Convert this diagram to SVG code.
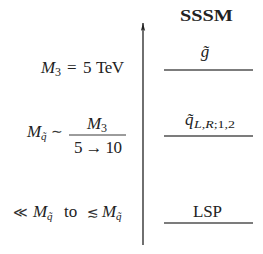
<svg xmlns="http://www.w3.org/2000/svg" width="263" height="254" viewBox="0 0 263 254">
<style>
text{font-family:"Liberation Serif","DejaVu Serif",serif;font-size:17px;fill:#222}
.i{font-style:italic}
.s{font-size:12px}
.ss{font-size:11px}
.sym{font-family:"DejaVu Sans","Liberation Serif",serif;font-size:14px;fill:#333}
.ln{stroke:#505050;stroke-width:1.6}
</style>
<defs>
<marker id="ah" markerWidth="8" markerHeight="5" refX="10" refY="3" orient="auto" markerUnits="userSpaceOnUse" viewBox="0 0 10 6">
<path d="M10 3 L0 0.3 L2.2 3 L0 5.7 Z" fill="#222"/>
</marker>
</defs>
<g id="axis">
<line x1="143" y1="245" x2="143" y2="23" stroke="#222" stroke-width="1.3" marker-end="url(#ah)"/>
</g>
<g id="title"><text x="180" y="21" textLength="53" lengthAdjust="spacingAndGlyphs" style="font-weight:bold">SSSM</text></g>
<g id="gluino">
<line class="ln" x1="164" y1="70" x2="253" y2="70"/>
<text class="i" x="205" y="57" text-anchor="middle">g̃</text>
<text x="41" y="72.5" class="i">M</text>
<text x="55" y="75.5" class="s">3</text>
<text x="67" y="72.5">=</text>
<text x="83" y="72.5">5</text>
<text x="96" y="72.5" textLength="28">TeV</text>
</g>
<g id="squark">
<line class="ln" x1="164" y1="136" x2="253" y2="136"/>
<text x="185" y="125" class="i">q̃</text>
<text x="194" y="128" class="ss" textLength="41" lengthAdjust="spacingAndGlyphs"><tspan class="i">L,R</tspan>;1,2</text>
<text x="27" y="137" class="i">M</text>
<text x="41" y="140" class="ss i">q̃</text>
<text x="51" y="136" class="sym">∼</text>
<text x="87" y="129" class="i">M</text>
<text x="101" y="132" class="s">3</text>
<line x1="69" y1="135" x2="126" y2="135" stroke="#222" stroke-width="0.9"/>
<text x="74" y="152.5" textLength="48">5 → 10</text>
</g>
<g id="lsp">
<line class="ln" x1="164" y1="223" x2="253" y2="223"/>
<text x="193" y="216.5" textLength="29">LSP</text>
<text x="13" y="216.5" class="sym">≪</text>
<text x="33" y="216.5" class="i">M</text>
<text x="47" y="219.5" class="ss i">q̃</text>
<text x="64" y="216.5">to</text>
<text x="87" y="216.5" class="sym">≲</text>
<text x="102" y="216.5" class="i">M</text>
<text x="116" y="219.5" class="ss i">q̃</text>
</g>
</svg>
